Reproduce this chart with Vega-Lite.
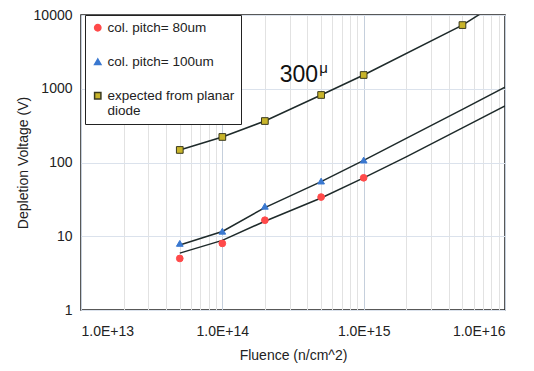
{
  "$schema": "https://vega.github.io/schema/vega-lite/v6.json",
  "width": 424,
  "height": 295,
  "autosize": {"type": "none"},
  "padding": {"left": 81, "top": 15, "right": 29, "bottom": 61},
  "background": "white",
  "config": {
    "view": {"stroke": "#222222", "strokeWidth": 1.5},
    "font": "Liberation Sans",
    "axis": {"labelFont": "Liberation Sans", "titleFont": "Liberation Sans", "labelColor": "#222", "titleColor": "#222", "titleFontWeight": "normal"},
    "legend": {"labelFont": "Liberation Sans"}
  },
  "datasets": {
    "pts": [
      {"fluence": 5e13, "voltage": 5.0, "series": "col. pitch= 80um"},
      {"fluence": 1e14, "voltage": 8.0, "series": "col. pitch= 80um"},
      {"fluence": 2e14, "voltage": 16.5, "series": "col. pitch= 80um"},
      {"fluence": 5e14, "voltage": 34, "series": "col. pitch= 80um"},
      {"fluence": 1e15, "voltage": 62, "series": "col. pitch= 80um"},
      {"fluence": 5e13, "voltage": 8.0, "series": "col. pitch= 100um"},
      {"fluence": 1e14, "voltage": 11.7, "series": "col. pitch= 100um"},
      {"fluence": 2e14, "voltage": 25.5, "series": "col. pitch= 100um"},
      {"fluence": 5e14, "voltage": 56, "series": "col. pitch= 100um"},
      {"fluence": 1e15, "voltage": 108, "series": "col. pitch= 100um"},
      {"fluence": 5e13, "voltage": 148, "series": "expected from planar diode"},
      {"fluence": 1e14, "voltage": 222, "series": "expected from planar diode"},
      {"fluence": 2e14, "voltage": 365, "series": "expected from planar diode"},
      {"fluence": 5e14, "voltage": 823, "series": "expected from planar diode"},
      {"fluence": 1e15, "voltage": 1536, "series": "expected from planar diode"},
      {"fluence": 5e15, "voltage": 7300, "series": "expected from planar diode"}
    ],
    "fits": [
      {"fluence": 5e13, "voltage": 5.9, "series": "fit80"},
      {"fluence": 1e14, "voltage": 8.8, "series": "fit80"},
      {"fluence": 2e14, "voltage": 16, "series": "fit80"},
      {"fluence": 5e14, "voltage": 33, "series": "fit80"},
      {"fluence": 1e15, "voltage": 62, "series": "fit80"},
      {"fluence": 2e15, "voltage": 119, "series": "fit80"},
      {"fluence": 5e15, "voltage": 295, "series": "fit80"},
      {"fluence": 1e16, "voltage": 583, "series": "fit80"},
      {"fluence": 5e13, "voltage": 7.6, "series": "fit100"},
      {"fluence": 1e14, "voltage": 11.6, "series": "fit100"},
      {"fluence": 2e14, "voltage": 24.5, "series": "fit100"},
      {"fluence": 5e14, "voltage": 55, "series": "fit100"},
      {"fluence": 1e15, "voltage": 107, "series": "fit100"},
      {"fluence": 2e15, "voltage": 212, "series": "fit100"},
      {"fluence": 5e15, "voltage": 525, "series": "fit100"},
      {"fluence": 1e16, "voltage": 1050, "series": "fit100"},
      {"fluence": 5e13, "voltage": 148, "series": "planar"},
      {"fluence": 1e14, "voltage": 222, "series": "planar"},
      {"fluence": 2e14, "voltage": 365, "series": "planar"},
      {"fluence": 5e14, "voltage": 823, "series": "planar"},
      {"fluence": 1e15, "voltage": 1536, "series": "planar"},
      {"fluence": 5e15, "voltage": 7300, "series": "planar"},
      {"fluence": 1e16, "voltage": 16800, "series": "planar"}
    ],
    "notes": [
      {"fluence": 3.48e14, "voltage": 1235, "label": "300", "size": "big"},
      {"fluence": 4.85e14, "voltage": 1636, "label": "μ", "size": "small"}
    ]
  },
  "layer": [
    {
      "data": {"name": "fits"},
      "mark": {"type": "line", "color": "#1e2a2a", "strokeWidth": 1.5, "clip": true},
      "encoding": {
        "x": {
          "field": "fluence", "type": "quantitative",
          "scale": {"type": "log", "domain": [1e13, 1e16], "nice": false},
          "axis": {
            "title": "Fluence (n/cm^2)",
            "titleFontSize": 14, "titlePadding": 10,
            "labelFontSize": 14, "labelPadding": 14,
            "ticks": false, "domain": false, "labelOverlap": false,
            "values": [1e13, 2e13, 3e13, 4e13, 5e13, 6e13, 7e13, 8e13, 9e13, 1e14, 2e14, 3e14, 4e14, 5e14, 6e14, 7e14, 8e14, 9e14, 1e15, 2e15, 3e15, 4e15, 5e15, 6e15, 7e15, 8e15, 9e15, 1e16],
            "labelExpr": "abs(log(datum.value)/LN10 - round(log(datum.value)/LN10)) < 0.001 ? '1.0E+' + round(log(datum.value)/LN10) : ''",
            "grid": true,
            "gridColor": {"condition": {"test": "abs(log(datum.value)/LN10 - round(log(datum.value)/LN10)) < 0.001", "value": "#c5cfdc"}, "value": "#e2e2e2"},
            "gridWidth": 1
          }
        },
        "y": {
          "field": "voltage", "type": "quantitative",
          "scale": {"type": "log", "domain": [1, 10000], "nice": false},
          "axis": {
            "title": "Depletion Voltage (V)",
            "titleFontSize": 14, "titlePadding": 3,
            "labelFontSize": 14, "labelPadding": 9,
            "ticks": false, "domain": false,
            "values": [1, 10, 100, 1000, 10000],
            "format": "d",
            "grid": true, "gridColor": "#dbe2ec", "gridWidth": 1
          }
        },
        "detail": {"field": "series", "type": "nominal"}
      }
    },
    {
      "data": {"name": "pts"},
      "mark": {"type": "point", "filled": true, "opacity": 1, "strokeWidth": 1},
      "encoding": {
        "x": {"field": "fluence", "type": "quantitative"},
        "y": {"field": "voltage", "type": "quantitative"},
        "shape": {
          "field": "series", "type": "nominal",
          "scale": {"domain": ["col. pitch= 80um", "col. pitch= 100um", "expected from planar diode"], "range": ["circle", "triangle-up", "square"]},
          "legend": {
            "title": null, "orient": "none", "legendX": 4, "legendY": 0,
            "strokeColor": "#222", "fillColor": "white", "padding": 6,
            "rowPadding": 19, "labelFontSize": 13.5, "labelLimit": 300, "labelColor": "#222",
            "symbolSize": 40, "labelOffset": 3,
            "labelExpr": "datum.label == 'expected from planar diode' ? ['expected from planar', 'diode'] : datum.label"
          }
        },
        "fill": {
          "field": "series", "type": "nominal",
          "scale": {"domain": ["col. pitch= 80um", "col. pitch= 100um", "expected from planar diode"], "range": ["#ff4a4a", "#3a78d0", "#c8b42a"]}
        },
        "stroke": {
          "field": "series", "type": "nominal",
          "scale": {"domain": ["col. pitch= 80um", "col. pitch= 100um", "expected from planar diode"], "range": ["#ff4a4a", "#3a78d0", "#3a3a20"]}
        },
        "size": {"value": 45}
      }
    },
    {
      "data": {"name": "notes"},
      "transform": [{"filter": "datum.size == 'big'"}],
      "mark": {"type": "text", "fontSize": 23, "align": "center", "baseline": "alphabetic", "color": "#111"},
      "encoding": {
        "x": {"field": "fluence", "type": "quantitative"},
        "y": {"field": "voltage", "type": "quantitative"},
        "text": {"field": "label"}
      }
    },
    {
      "data": {"name": "notes"},
      "transform": [{"filter": "datum.size == 'small'"}],
      "mark": {"type": "text", "fontSize": 15, "align": "left", "baseline": "alphabetic", "color": "#111"},
      "encoding": {
        "x": {"field": "fluence", "type": "quantitative"},
        "y": {"field": "voltage", "type": "quantitative"},
        "text": {"field": "label"}
      }
    }
  ]
}
